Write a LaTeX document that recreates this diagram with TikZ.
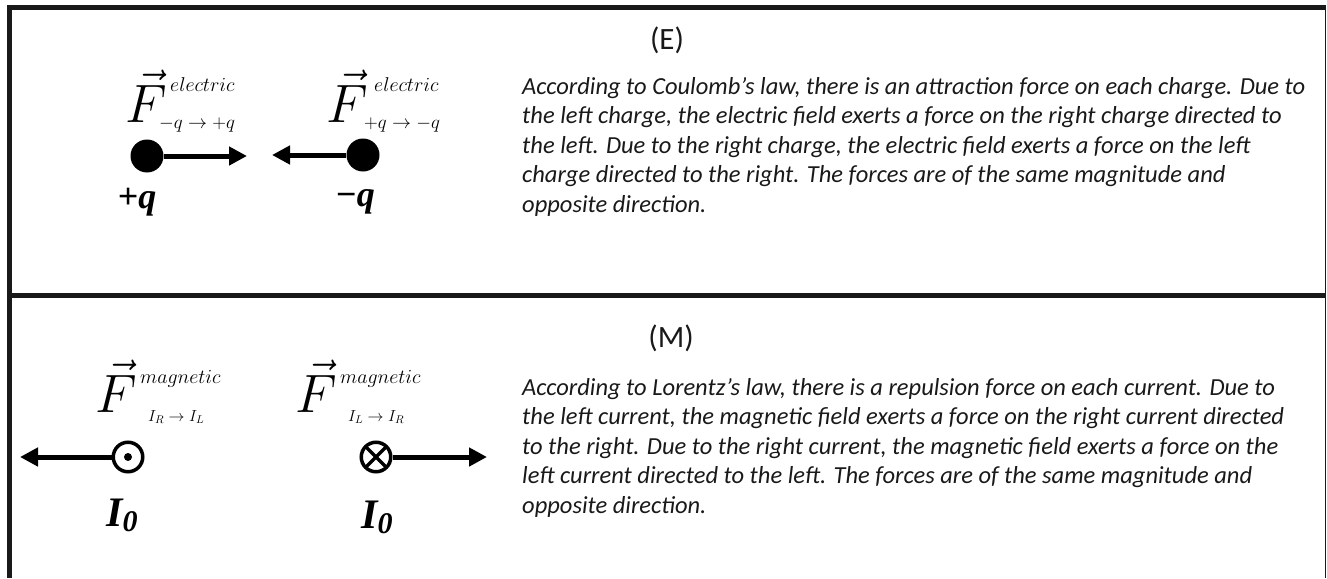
\documentclass[tikz,border=0pt]{standalone}
\usepackage{fix-cm}
\usepackage{fontspec}
\setmainfont{Carlito}
\newfontfamily\timesfont{Liberation Serif}
\usetikzlibrary{arrows.meta, positioning}
\tikzset{
    % frame and texts
    frame/.style     = {line width=5pt, black!90},
    thinframe/.style = {line width=1.5pt, black!90},
    heading/.style   = {font=\fontsize{31}{31}\selectfont, text=black!90},
    explain/.style   = {font=\fontsize{24.5}{29.5}\selectfont\itshape, align=left,
                        anchor=north west, inner sep=0pt, text=black!90},
    % charges and currents
    charge/.style  = {circle, fill=black, minimum size=33pt, inner sep=0pt},
    current/.style = {circle, draw=black, line width=3.5pt, minimum size=29.5pt, inner sep=0pt},
    outof/.style   = {current, path picture={\fill (path picture bounding box.center) circle (4pt);}},
    into/.style    = {current, path picture={
        \draw[line width=3.5pt] (path picture bounding box.north west) -- (path picture bounding box.south east)
                                (path picture bounding box.north east) -- (path picture bounding box.south west);}},
    qlabel/.style  = {inner sep=0pt, font=\timesfont\bfseries\itshape\fontsize{36}{36}\selectfont},
    % force symbols
    fvec/.style = {anchor=base, inner sep=0pt, font=\fontsize{54}{54}\selectfont},
    supl/.style = {anchor=base west, inner sep=0pt, font=\fontsize{20}{20}\selectfont},
    subl/.style = {anchor=base west, inner sep=0pt, font=\fontsize{19}{19}\selectfont},
    subm/.style = {anchor=base west, inner sep=0pt, font=\fontsize{16}{16}\selectfont},
    force/.style = {line width=5pt, -{Triangle[length=18pt, width=18pt]}}
}

\begin{document}
\begin{tikzpicture}[x=1pt, y=-1pt]
    \useasboundingbox (0,0) rectangle (1327,578);

    % table lines
    \draw[frame] (9.5,578) -- (9.5,8) -- (1325.5,8);
    \draw[frame] (9.5,295) -- (1325.5,295);
    \draw[thinframe] (1325.5,8) -- (1325.5,578);

    % (E) electric charges
    \node (qpos) [charge] at (147,156) {};
    \node (qneg) [charge] at (363,155) {};
    \coordinate (tipE1) at (247,156);
    \coordinate (tipE2) at (272,155);
    \draw[force] (qpos) -- (tipE1);
    \draw[force] (qneg) -- (tipE2);
    \node (lpos) [qlabel] at (137,202) {+q};
    \node (lneg) [qlabel] at (355,202) {−q};

    \node (fe1) [fvec] at (146,122) {$\vec{F}$};
    \node (fe1sup) [supl] at (170,91) {$electric$};
    \node (fe1sub) [subl] at (159,128) {$-q\to+q$};
    \node (fe2) [fvec] at (347,122) {$\vec{F}$};
    \node (fe2sup) [supl] at (374,91) {$electric$};
    \node (fe2sub) [subl] at (364,128) {$+q\to-q$};

    \node (headE) [heading] at (667,40) {(E)};
    \node (textE) [explain] at (522,77) {According to Coulomb’s law, there is an attraction force on each charge. Due to\\
        the left charge, the electric field exerts a force on the right charge directed to\\
        the left. Due to the right charge, the electric field exerts a force on the left\\
        charge directed to the right. The forces are of the same magnitude and\\
        opposite direction.};

    % (M) magnetic currents
    \node (iout) [outof] at (128,457) {};
    \node (iin) [into] at (376,457) {};
    \coordinate (tipM1) at (20,457);
    \coordinate (tipM2) at (487,457);
    \draw[force] (iout) -- (tipM1);
    \draw[force] (iin) -- (tipM2);
    \node (lout) [qlabel] at (122,515) {\fontsize{42}{42}\selectfont I\raisebox{-5pt}{\fontsize{30}{30}\selectfont 0}};
    \node (lin) [qlabel] at (377,517) {\fontsize{42}{42}\selectfont I\raisebox{-5pt}{\fontsize{30}{30}\selectfont 0}};

    \node (fm1) [fvec] at (116,412) {$\vec{F}$};
    \node (fm1sup) [supl] at (140,383) {$magnetic$};
    \node (fm1sub) [subm] at (148,421) {$I_R\to I_L$};
    \node (fm2) [fvec] at (316,412) {$\vec{F}$};
    \node (fm2sup) [supl] at (340,383) {$magnetic$};
    \node (fm2sub) [subm] at (348,421) {$I_L\to I_R$};

    \node (headM) [heading] at (671,338) {(M)};
    \node (textM) [explain] at (522,378) {According to Lorentz’s law, there is a repulsion force on each current. Due to\\
        the left current, the magnetic field exerts a force on the right current directed\\
        to the right. Due to the right current, the magnetic field exerts a force on the\\
        left current directed to the left. The forces are of the same magnitude and\\
        opposite direction.};
\end{tikzpicture}
\end{document}
